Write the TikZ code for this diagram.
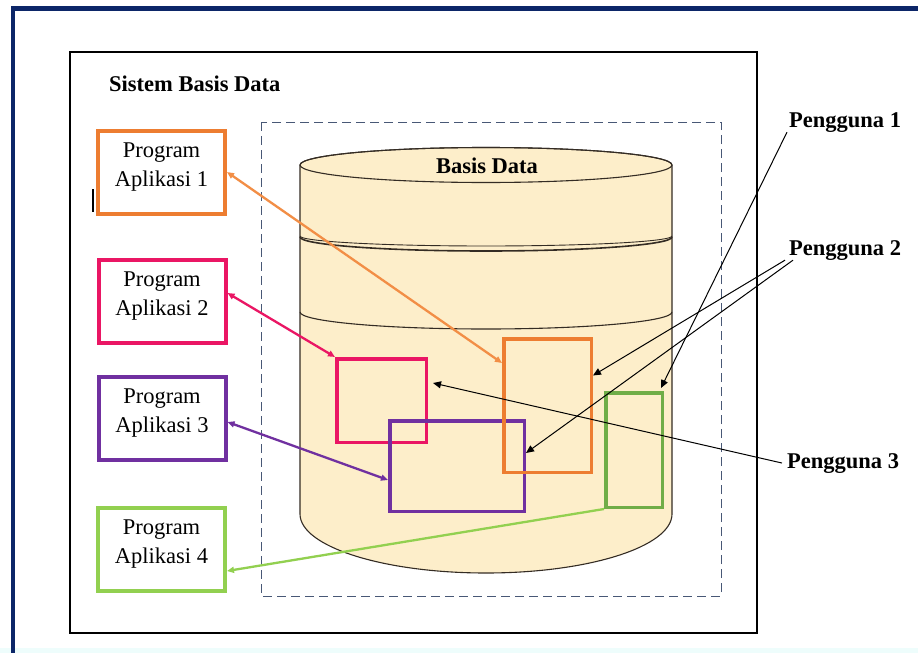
\documentclass[tikz,border=0pt]{standalone}
\usepackage{fontspec}
\setmainfont{Liberation Serif}
\usetikzlibrary{arrows.meta}

\definecolor{framenavy}{RGB}{12,38,104}
\definecolor{stripcyan}{RGB}{238,253,252}
\definecolor{dashblue}{RGB}{72,88,118}
\definecolor{dbfill}{RGB}{253,238,202}
\definecolor{dbline}{RGB}{52,44,36}
\definecolor{cOrange}{RGB}{237,125,49}
\definecolor{cOrangeA}{RGB}{242,142,70}
\definecolor{cPink}{RGB}{234,22,100}
\definecolor{cPurple}{RGB}{112,48,160}
\definecolor{cGreen}{RGB}{146,208,80}
\definecolor{cGreenD}{RGB}{112,173,71}

\tikzset{
  progbox/.style={draw=#1, line width=4pt, minimum width=127pt, minimum height=83pt, inner sep=0pt},
  progtext/.style={inner sep=0pt, align=center, font=\fontsize{22.5}{29}\selectfont},
  viewbox/.style={draw=#1, line width=3.5pt, inner sep=0pt},
  label/.style={inner sep=0pt, font=\fontsize{22.5}{27}\selectfont\bfseries},
  linkc/.style={draw=#1, line width=2.3pt, {Triangle[length=7pt,width=6pt]}-{Triangle[length=7pt,width=6pt]}},
  linkone/.style={draw=#1, line width=2.3pt, -{Triangle[length=7pt,width=6pt]}},
  user/.style={draw=black, line width=1pt, -{Triangle[length=8pt,width=7pt]}},
  dbedge/.style={draw=dbline, line width=1.1pt}
}

\begin{document}
\begin{tikzpicture}[x=1pt,y=-1pt]
\useasboundingbox (0,0) rectangle (918,653);

% page background and frame
\fill[white] (0,0) rectangle (918,653);
\fill[stripcyan] (0,648) rectangle (918,653);
\fill[framenavy] (11,6) rectangle (918,11);
\fill[framenavy] (11,6) rectangle (15,653);

% outer system box
\draw[line width=2pt] (70,52) rectangle (757,633);
\node[label, anchor=base west] (sbd) at (109,91) {Sistem Basis Data};

% dashed database boundary
\draw[dashblue, line width=1pt, dash pattern=on 9pt off 5pt] (261,122) rectangle (721,596);

% cylinder
\path[fill=dbfill, dbedge] (300,165) -- (300,514)
  arc[start angle=180, end angle=0, x radius=186, y radius=59]
  -- (672,165)
  arc[start angle=0, end angle=-180, x radius=186, y radius=17.5] -- cycle;
\draw[dbedge] (486,165) ellipse [x radius=186, y radius=17.5];
\draw[dbedge, line width=1.6pt] (300,237) arc[start angle=180, end angle=0, x radius=186, y radius=14];
\draw[dbedge, line width=0.9pt] (300,236) arc[start angle=180, end angle=0, x radius=186, y radius=10];
\draw[dbedge] (300,312) arc[start angle=180, end angle=0, x radius=186, y radius=17];
\node[label, anchor=base] (bd) at (487,173) {Basis Data};

% application programs
\node[progbox=cOrange] (prog1) at (161.5,172) {};
\node[progbox=cPink]   (prog2) at (162,301.5) {};
\node[progbox=cPurple] (prog3) at (162,418.5) {};
\node[progbox=cGreen]  (prog4) at (161.5,549) {};
\node[progtext] (t1) at ([yshift=5pt]prog1.center) {Program\\Aplikasi 1};
\node[progtext] (t2) at ([yshift=5pt]prog2.center) {Program\\Aplikasi 2};
\node[progtext] (t3) at ([yshift=5pt]prog3.center) {Program\\Aplikasi 3};
\node[progtext] (t4) at ([yshift=5pt]prog4.center) {Program\\Aplikasi 4};

% small caret mark
\draw[line width=1.5pt] (93,189) -- (93,212);

% views of the database
\node[viewbox=cPink, minimum width=89.5pt, minimum height=83.5pt] (vP) at (381.5,400.5) {};
\node[viewbox=cPurple, minimum width=134.5pt, minimum height=90.5pt] (vU) at (457,466) {};
\node[viewbox=cOrange, minimum width=87.5pt, minimum height=133.5pt] (vO) at (547.5,405.5) {};
\node[viewbox=cGreenD, minimum width=56.5pt, minimum height=114.5pt] (vG) at (634,450) {};

% program links
\draw[linkc=cOrangeA] (prog1.east) -- ([yshift=42.5pt]vO.west);
\draw[linkc=cPink] ([yshift=8.5pt]prog2.east) -- (vP.north west);
\draw[linkc=cPurple] ([yshift=-3.5pt]prog3.east) -- ([yshift=-14pt]vU.west);
\draw[linkone=cGreen] (vG.south west) -- ([yshift=-22pt]prog4.east);

% users
\node[label, anchor=base west] (pg1) at (789,127) {Pengguna 1};
\node[label, anchor=base west] (pg2) at (789,255) {Pengguna 2};
\node[label, anchor=base west] (pg3) at (787,468) {Pengguna 3};
\draw[user] ([xshift=-2pt]pg1.south west) -- ([xshift=-3pt,yshift=3pt]vG.north east);
\draw[user] ([xshift=-4pt]pg2.south west) -- ([yshift=30pt]vO.east);
\draw[user] ([xshift=4pt]pg2.south west) -- ([yshift=13pt]vU.east);
\draw[user] ([xshift=-5pt]pg3.west) -- ([xshift=5pt,yshift=17.5pt]vP.east);

\end{tikzpicture}
\end{document}
